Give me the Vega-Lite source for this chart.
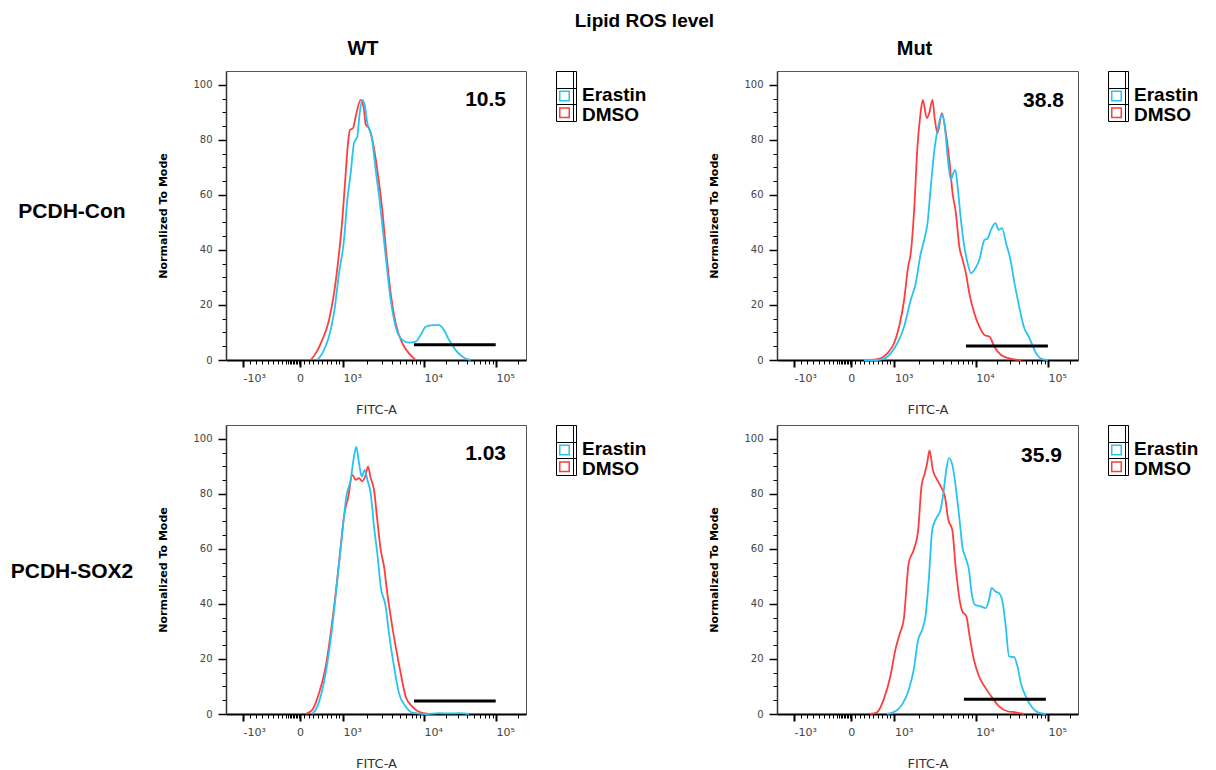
{
  "$schema": "https://vega.github.io/schema/vega-lite/v6.json",
  "padding": {"left": 10, "top": 11, "right": 5, "bottom": 0},
  "background": "white",
  "title": {"text": "Lipid ROS level", "font": "Liberation Sans", "fontSize": 19, "fontWeight": "bold", "anchor": "middle", "dx": 40, "offset": 8, "color": "black"},
  "config": {"font": "Liberation Sans", "axis": {"grid": false}},
  "datasets": {
    "legend": [{"s": "Erastin", "r": 1.5, "ty": 1.42}, {"s": "DMSO", "r": 2.5, "ty": 2.62}],
    "gates": [
      {"p": "WT_Con", "ch": 188, "ch2": 269.7, "v": 5.5},
      {"p": "Mut_Con", "ch": 188.3, "ch2": 270, "v": 5.1},
      {"p": "WT_SOX2", "ch": 188, "ch2": 269.7, "v": 4.7},
      {"p": "Mut_SOX2", "ch": 186.3, "ch2": 268, "v": 5.4}
    ],
    "pct": [
      {"p": "WT_Con", "ch": 280, "v": 94.5, "t": "10.5"},
      {"p": "Mut_Con", "ch": 286, "v": 94, "t": "38.8"},
      {"p": "WT_SOX2", "ch": 280, "v": 94.4, "t": "1.03"},
      {"p": "Mut_SOX2", "ch": 284, "v": 93.8, "t": "35.9"}
    ],
    "curves": [
      {"p":"WT_Con","s":"DMSO","ch":84.7,"v":0},{"p":"WT_Con","s":"DMSO","ch":89.7,"v":2.4},{"p":"WT_Con","s":"DMSO","ch":96.3,"v":7.3},{"p":"WT_Con","s":"DMSO","ch":103,"v":14.5},{"p":"WT_Con","s":"DMSO","ch":108,"v":24.2},{"p":"WT_Con","s":"DMSO","ch":112.3,"v":36.4},{"p":"WT_Con","s":"DMSO","ch":116.3,"v":50.9},{"p":"WT_Con","s":"DMSO","ch":119,"v":64.2},{"p":"WT_Con","s":"DMSO","ch":122,"v":78.8},{"p":"WT_Con","s":"DMSO","ch":124,"v":83.6},{"p":"WT_Con","s":"DMSO","ch":127,"v":84.2},{"p":"WT_Con","s":"DMSO","ch":129.7,"v":88.5},{"p":"WT_Con","s":"DMSO","ch":134.7,"v":94.5},{"p":"WT_Con","s":"DMSO","ch":138,"v":90.9},{"p":"WT_Con","s":"DMSO","ch":139.7,"v":85.5},{"p":"WT_Con","s":"DMSO","ch":143,"v":84.2},{"p":"WT_Con","s":"DMSO","ch":146.3,"v":80},{"p":"WT_Con","s":"DMSO","ch":151.3,"v":69.1},{"p":"WT_Con","s":"DMSO","ch":156.3,"v":54.5},{"p":"WT_Con","s":"DMSO","ch":160.3,"v":38.8},{"p":"WT_Con","s":"DMSO","ch":164.7,"v":24.2},{"p":"WT_Con","s":"DMSO","ch":169.7,"v":13.3},{"p":"WT_Con","s":"DMSO","ch":176.3,"v":6.1},{"p":"WT_Con","s":"DMSO","ch":183,"v":2.4},{"p":"WT_Con","s":"DMSO","ch":189.7,"v":0},
      {"p":"WT_Con","s":"Erastin","ch":91.3,"v":0},{"p":"WT_Con","s":"Erastin","ch":96.3,"v":2.4},{"p":"WT_Con","s":"Erastin","ch":103,"v":8.5},{"p":"WT_Con","s":"Erastin","ch":108,"v":17},{"p":"WT_Con","s":"Erastin","ch":113,"v":31.5},{"p":"WT_Con","s":"Erastin","ch":118,"v":43.6},{"p":"WT_Con","s":"Erastin","ch":121.3,"v":58.2},{"p":"WT_Con","s":"Erastin","ch":124.7,"v":67.9},{"p":"WT_Con","s":"Erastin","ch":128,"v":78.8},{"p":"WT_Con","s":"Erastin","ch":131.3,"v":81.2},{"p":"WT_Con","s":"Erastin","ch":133.7,"v":89.7},{"p":"WT_Con","s":"Erastin","ch":136.3,"v":94.5},{"p":"WT_Con","s":"Erastin","ch":139,"v":92.1},{"p":"WT_Con","s":"Erastin","ch":141.3,"v":86.1},{"p":"WT_Con","s":"Erastin","ch":145.7,"v":81.2},{"p":"WT_Con","s":"Erastin","ch":149.7,"v":69.1},{"p":"WT_Con","s":"Erastin","ch":154.7,"v":54.5},{"p":"WT_Con","s":"Erastin","ch":159.7,"v":37.6},{"p":"WT_Con","s":"Erastin","ch":164.7,"v":21.8},{"p":"WT_Con","s":"Erastin","ch":169.7,"v":12.1},{"p":"WT_Con","s":"Erastin","ch":176.3,"v":7.3},{"p":"WT_Con","s":"Erastin","ch":183,"v":6.3},{"p":"WT_Con","s":"Erastin","ch":189.7,"v":6.7},{"p":"WT_Con","s":"Erastin","ch":194.7,"v":9.1},{"p":"WT_Con","s":"Erastin","ch":199.7,"v":12.1},{"p":"WT_Con","s":"Erastin","ch":206.3,"v":12.7},{"p":"WT_Con","s":"Erastin","ch":213,"v":12.7},{"p":"WT_Con","s":"Erastin","ch":218,"v":10.9},{"p":"WT_Con","s":"Erastin","ch":223,"v":7.3},{"p":"WT_Con","s":"Erastin","ch":229.7,"v":3.6},{"p":"WT_Con","s":"Erastin","ch":238,"v":0.8},{"p":"WT_Con","s":"Erastin","ch":244.7,"v":0},
      {"p":"Mut_Con","s":"DMSO","ch":93.3,"v":0},{"p":"Mut_Con","s":"DMSO","ch":103.3,"v":0.6},{"p":"Mut_Con","s":"DMSO","ch":110,"v":2.4},{"p":"Mut_Con","s":"DMSO","ch":116.7,"v":6.1},{"p":"Mut_Con","s":"DMSO","ch":121.7,"v":12.1},{"p":"Mut_Con","s":"DMSO","ch":126.7,"v":21.8},{"p":"Mut_Con","s":"DMSO","ch":130.7,"v":33.9},{"p":"Mut_Con","s":"DMSO","ch":133.3,"v":38.8},{"p":"Mut_Con","s":"DMSO","ch":136.7,"v":54.5},{"p":"Mut_Con","s":"DMSO","ch":140,"v":77.6},{"p":"Mut_Con","s":"DMSO","ch":142.7,"v":88.5},{"p":"Mut_Con","s":"DMSO","ch":145.3,"v":94.5},{"p":"Mut_Con","s":"DMSO","ch":149.3,"v":87.9},{"p":"Mut_Con","s":"DMSO","ch":151.7,"v":89.7},{"p":"Mut_Con","s":"DMSO","ch":155,"v":94.5},{"p":"Mut_Con","s":"DMSO","ch":157.3,"v":87.3},{"p":"Mut_Con","s":"DMSO","ch":160,"v":82.4},{"p":"Mut_Con","s":"DMSO","ch":164.3,"v":89.7},{"p":"Mut_Con","s":"DMSO","ch":168.3,"v":82.4},{"p":"Mut_Con","s":"DMSO","ch":171.7,"v":72.7},{"p":"Mut_Con","s":"DMSO","ch":175,"v":60.6},{"p":"Mut_Con","s":"DMSO","ch":178.3,"v":53.3},{"p":"Mut_Con","s":"DMSO","ch":181.7,"v":41.2},{"p":"Mut_Con","s":"DMSO","ch":185,"v":36.4},{"p":"Mut_Con","s":"DMSO","ch":188.3,"v":31.5},{"p":"Mut_Con","s":"DMSO","ch":191.7,"v":24.2},{"p":"Mut_Con","s":"DMSO","ch":196.7,"v":17},{"p":"Mut_Con","s":"DMSO","ch":201.7,"v":12.1},{"p":"Mut_Con","s":"DMSO","ch":206.7,"v":9.1},{"p":"Mut_Con","s":"DMSO","ch":211.7,"v":8.5},{"p":"Mut_Con","s":"DMSO","ch":216.7,"v":4.8},{"p":"Mut_Con","s":"DMSO","ch":223.3,"v":1.8},{"p":"Mut_Con","s":"DMSO","ch":233.3,"v":0.4},{"p":"Mut_Con","s":"DMSO","ch":243.3,"v":0},
      {"p":"Mut_Con","s":"Erastin","ch":86.7,"v":0},{"p":"Mut_Con","s":"Erastin","ch":100,"v":0},{"p":"Mut_Con","s":"Erastin","ch":106.7,"v":0.4},{"p":"Mut_Con","s":"Erastin","ch":113.3,"v":2.4},{"p":"Mut_Con","s":"Erastin","ch":120,"v":6.1},{"p":"Mut_Con","s":"Erastin","ch":126.7,"v":12.1},{"p":"Mut_Con","s":"Erastin","ch":133.3,"v":21.8},{"p":"Mut_Con","s":"Erastin","ch":138.3,"v":27.9},{"p":"Mut_Con","s":"Erastin","ch":143.3,"v":38.8},{"p":"Mut_Con","s":"Erastin","ch":146.7,"v":43.6},{"p":"Mut_Con","s":"Erastin","ch":150,"v":49.7},{"p":"Mut_Con","s":"Erastin","ch":153.3,"v":63},{"p":"Mut_Con","s":"Erastin","ch":157.3,"v":77.6},{"p":"Mut_Con","s":"Erastin","ch":160.7,"v":84.8},{"p":"Mut_Con","s":"Erastin","ch":164.3,"v":89.1},{"p":"Mut_Con","s":"Erastin","ch":167.3,"v":84.8},{"p":"Mut_Con","s":"Erastin","ch":170,"v":73.9},{"p":"Mut_Con","s":"Erastin","ch":173.3,"v":65.5},{"p":"Mut_Con","s":"Erastin","ch":175.7,"v":67.9},{"p":"Mut_Con","s":"Erastin","ch":177.7,"v":69.1},{"p":"Mut_Con","s":"Erastin","ch":180,"v":63},{"p":"Mut_Con","s":"Erastin","ch":183.3,"v":50.9},{"p":"Mut_Con","s":"Erastin","ch":186.7,"v":41.2},{"p":"Mut_Con","s":"Erastin","ch":190,"v":35.2},{"p":"Mut_Con","s":"Erastin","ch":193.3,"v":31.5},{"p":"Mut_Con","s":"Erastin","ch":196.7,"v":32.7},{"p":"Mut_Con","s":"Erastin","ch":201.7,"v":36.4},{"p":"Mut_Con","s":"Erastin","ch":206.7,"v":43.6},{"p":"Mut_Con","s":"Erastin","ch":210,"v":44.2},{"p":"Mut_Con","s":"Erastin","ch":213.3,"v":47.3},{"p":"Mut_Con","s":"Erastin","ch":217.7,"v":49.7},{"p":"Mut_Con","s":"Erastin","ch":221,"v":47.3},{"p":"Mut_Con","s":"Erastin","ch":224.3,"v":47.9},{"p":"Mut_Con","s":"Erastin","ch":228.3,"v":42.4},{"p":"Mut_Con","s":"Erastin","ch":232.7,"v":36.4},{"p":"Mut_Con","s":"Erastin","ch":236.7,"v":27.9},{"p":"Mut_Con","s":"Erastin","ch":240.7,"v":20.6},{"p":"Mut_Con","s":"Erastin","ch":246,"v":12.1},{"p":"Mut_Con","s":"Erastin","ch":251.7,"v":7.9},{"p":"Mut_Con","s":"Erastin","ch":258.3,"v":2.4},{"p":"Mut_Con","s":"Erastin","ch":265,"v":0.2},{"p":"Mut_Con","s":"Erastin","ch":270,"v":0},
      {"p":"WT_SOX2","s":"DMSO","ch":79.7,"v":0},{"p":"WT_SOX2","s":"DMSO","ch":86.3,"v":1.5},{"p":"WT_SOX2","s":"DMSO","ch":93,"v":7.5},{"p":"WT_SOX2","s":"DMSO","ch":99.7,"v":17.2},{"p":"WT_SOX2","s":"DMSO","ch":104.7,"v":29.3},{"p":"WT_SOX2","s":"DMSO","ch":109.7,"v":43.9},{"p":"WT_SOX2","s":"DMSO","ch":114.7,"v":60.8},{"p":"WT_SOX2","s":"DMSO","ch":118,"v":71.8},{"p":"WT_SOX2","s":"DMSO","ch":122.3,"v":79},{"p":"WT_SOX2","s":"DMSO","ch":126.3,"v":86.9},{"p":"WT_SOX2","s":"DMSO","ch":129.7,"v":85.1},{"p":"WT_SOX2","s":"DMSO","ch":133,"v":85.7},{"p":"WT_SOX2","s":"DMSO","ch":136.3,"v":84.5},{"p":"WT_SOX2","s":"DMSO","ch":139.7,"v":86.9},{"p":"WT_SOX2","s":"DMSO","ch":142,"v":89.9},{"p":"WT_SOX2","s":"DMSO","ch":144.7,"v":85.7},{"p":"WT_SOX2","s":"DMSO","ch":148,"v":81.5},{"p":"WT_SOX2","s":"DMSO","ch":151.3,"v":70.5},{"p":"WT_SOX2","s":"DMSO","ch":154.7,"v":59.6},{"p":"WT_SOX2","s":"DMSO","ch":158,"v":53.6},{"p":"WT_SOX2","s":"DMSO","ch":161.3,"v":43.9},{"p":"WT_SOX2","s":"DMSO","ch":164.7,"v":35.4},{"p":"WT_SOX2","s":"DMSO","ch":169.7,"v":24.5},{"p":"WT_SOX2","s":"DMSO","ch":174.7,"v":14.8},{"p":"WT_SOX2","s":"DMSO","ch":179.7,"v":6.3},{"p":"WT_SOX2","s":"DMSO","ch":186.3,"v":2.7},{"p":"WT_SOX2","s":"DMSO","ch":193,"v":0.8},{"p":"WT_SOX2","s":"DMSO","ch":203,"v":0},
      {"p":"WT_SOX2","s":"Erastin","ch":86.3,"v":0},{"p":"WT_SOX2","s":"Erastin","ch":91.3,"v":2.7},{"p":"WT_SOX2","s":"Erastin","ch":96.3,"v":8.7},{"p":"WT_SOX2","s":"Erastin","ch":101.3,"v":18.4},{"p":"WT_SOX2","s":"Erastin","ch":106.3,"v":31.8},{"p":"WT_SOX2","s":"Erastin","ch":111.3,"v":48.7},{"p":"WT_SOX2","s":"Erastin","ch":116.3,"v":65.7},{"p":"WT_SOX2","s":"Erastin","ch":120.3,"v":79},{"p":"WT_SOX2","s":"Erastin","ch":124.7,"v":85.1},{"p":"WT_SOX2","s":"Erastin","ch":128,"v":93.6},{"p":"WT_SOX2","s":"Erastin","ch":130.3,"v":97},{"p":"WT_SOX2","s":"Erastin","ch":133,"v":91.2},{"p":"WT_SOX2","s":"Erastin","ch":135.7,"v":86.3},{"p":"WT_SOX2","s":"Erastin","ch":138.7,"v":88.7},{"p":"WT_SOX2","s":"Erastin","ch":141.3,"v":85.1},{"p":"WT_SOX2","s":"Erastin","ch":144.7,"v":80.2},{"p":"WT_SOX2","s":"Erastin","ch":148,"v":68.1},{"p":"WT_SOX2","s":"Erastin","ch":151.3,"v":58.4},{"p":"WT_SOX2","s":"Erastin","ch":154.7,"v":46.3},{"p":"WT_SOX2","s":"Erastin","ch":159.7,"v":39},{"p":"WT_SOX2","s":"Erastin","ch":163,"v":29.3},{"p":"WT_SOX2","s":"Erastin","ch":168,"v":17.2},{"p":"WT_SOX2","s":"Erastin","ch":173,"v":7.5},{"p":"WT_SOX2","s":"Erastin","ch":179.7,"v":2.7},{"p":"WT_SOX2","s":"Erastin","ch":186.3,"v":0.5},{"p":"WT_SOX2","s":"Erastin","ch":199.7,"v":0},{"p":"WT_SOX2","s":"Erastin","ch":213,"v":0.3},{"p":"WT_SOX2","s":"Erastin","ch":223,"v":0.2},{"p":"WT_SOX2","s":"Erastin","ch":233,"v":0.3},{"p":"WT_SOX2","s":"Erastin","ch":243,"v":0},
      {"p":"Mut_SOX2","s":"DMSO","ch":93,"v":0},{"p":"Mut_SOX2","s":"DMSO","ch":99.7,"v":0.6},{"p":"Mut_SOX2","s":"DMSO","ch":106.3,"v":5.2},{"p":"Mut_SOX2","s":"DMSO","ch":113,"v":13.7},{"p":"Mut_SOX2","s":"DMSO","ch":118,"v":23.4},{"p":"Mut_SOX2","s":"DMSO","ch":122,"v":28.8},{"p":"Mut_SOX2","s":"DMSO","ch":126.3,"v":34.3},{"p":"Mut_SOX2","s":"DMSO","ch":131.3,"v":54.8},{"p":"Mut_SOX2","s":"DMSO","ch":136.3,"v":59.7},{"p":"Mut_SOX2","s":"DMSO","ch":140.7,"v":66.9},{"p":"Mut_SOX2","s":"DMSO","ch":144,"v":82.7},{"p":"Mut_SOX2","s":"DMSO","ch":147.3,"v":87.5},{"p":"Mut_SOX2","s":"DMSO","ch":149.7,"v":91.2},{"p":"Mut_SOX2","s":"DMSO","ch":152,"v":95.8},{"p":"Mut_SOX2","s":"DMSO","ch":155.3,"v":88.7},{"p":"Mut_SOX2","s":"DMSO","ch":159.7,"v":85.1},{"p":"Mut_SOX2","s":"DMSO","ch":164,"v":82.1},{"p":"Mut_SOX2","s":"DMSO","ch":167.3,"v":79.1},{"p":"Mut_SOX2","s":"DMSO","ch":170.7,"v":70.6},{"p":"Mut_SOX2","s":"DMSO","ch":174.7,"v":66.9},{"p":"Mut_SOX2","s":"DMSO","ch":178,"v":53.6},{"p":"Mut_SOX2","s":"DMSO","ch":182,"v":41.5},{"p":"Mut_SOX2","s":"DMSO","ch":184.7,"v":37.3},{"p":"Mut_SOX2","s":"DMSO","ch":188.7,"v":35.5},{"p":"Mut_SOX2","s":"DMSO","ch":192,"v":28.2},{"p":"Mut_SOX2","s":"DMSO","ch":196.3,"v":19.7},{"p":"Mut_SOX2","s":"DMSO","ch":201.3,"v":13.7},{"p":"Mut_SOX2","s":"DMSO","ch":208,"v":9.4},{"p":"Mut_SOX2","s":"DMSO","ch":214.7,"v":5.8},{"p":"Mut_SOX2","s":"DMSO","ch":221.3,"v":2.8},{"p":"Mut_SOX2","s":"DMSO","ch":229.7,"v":1},{"p":"Mut_SOX2","s":"DMSO","ch":238,"v":0.6},{"p":"Mut_SOX2","s":"DMSO","ch":246.3,"v":0},
      {"p":"Mut_SOX2","s":"Erastin","ch":109.7,"v":0},{"p":"Mut_SOX2","s":"Erastin","ch":118,"v":1},{"p":"Mut_SOX2","s":"Erastin","ch":124.7,"v":3.4},{"p":"Mut_SOX2","s":"Erastin","ch":131.3,"v":8.8},{"p":"Mut_SOX2","s":"Erastin","ch":136.3,"v":16.1},{"p":"Mut_SOX2","s":"Erastin","ch":140.7,"v":27},{"p":"Mut_SOX2","s":"Erastin","ch":144.7,"v":30.6},{"p":"Mut_SOX2","s":"Erastin","ch":148,"v":35.5},{"p":"Mut_SOX2","s":"Erastin","ch":151.3,"v":48.8},{"p":"Mut_SOX2","s":"Erastin","ch":154.7,"v":66.9},{"p":"Mut_SOX2","s":"Erastin","ch":158,"v":70.6},{"p":"Mut_SOX2","s":"Erastin","ch":163,"v":74.2},{"p":"Mut_SOX2","s":"Erastin","ch":166.3,"v":81.5},{"p":"Mut_SOX2","s":"Erastin","ch":168.7,"v":88.7},{"p":"Mut_SOX2","s":"Erastin","ch":171.3,"v":93},{"p":"Mut_SOX2","s":"Erastin","ch":174.7,"v":90.6},{"p":"Mut_SOX2","s":"Erastin","ch":179.7,"v":77.8},{"p":"Mut_SOX2","s":"Erastin","ch":183,"v":66.9},{"p":"Mut_SOX2","s":"Erastin","ch":184.7,"v":60.9},{"p":"Mut_SOX2","s":"Erastin","ch":188,"v":56.7},{"p":"Mut_SOX2","s":"Erastin","ch":191.3,"v":52.4},{"p":"Mut_SOX2","s":"Erastin","ch":194,"v":43.9},{"p":"Mut_SOX2","s":"Erastin","ch":197.3,"v":39.7},{"p":"Mut_SOX2","s":"Erastin","ch":203,"v":39.1},{"p":"Mut_SOX2","s":"Erastin","ch":208,"v":38.5},{"p":"Mut_SOX2","s":"Erastin","ch":211.3,"v":41.5},{"p":"Mut_SOX2","s":"Erastin","ch":214,"v":45.8},{"p":"Mut_SOX2","s":"Erastin","ch":217.3,"v":44.6},{"p":"Mut_SOX2","s":"Erastin","ch":221.3,"v":43.9},{"p":"Mut_SOX2","s":"Erastin","ch":224.7,"v":40.9},{"p":"Mut_SOX2","s":"Erastin","ch":228,"v":31.8},{"p":"Mut_SOX2","s":"Erastin","ch":231.3,"v":20.9},{"p":"Mut_SOX2","s":"Erastin","ch":236.3,"v":20.7},{"p":"Mut_SOX2","s":"Erastin","ch":239.7,"v":17.3},{"p":"Mut_SOX2","s":"Erastin","ch":243,"v":11.3},{"p":"Mut_SOX2","s":"Erastin","ch":248,"v":6.4},{"p":"Mut_SOX2","s":"Erastin","ch":254.7,"v":2.2},{"p":"Mut_SOX2","s":"Erastin","ch":261.3,"v":0.4},{"p":"Mut_SOX2","s":"Erastin","ch":268,"v":0}
    ]
  },
  "spacing": 7,
  "vconcat": [
    {
      "spacing": 23,
      "hconcat": [
        {
          "width": 124, "height": 289, "view": {"stroke": null},
          "title": {"text": " ", "fontSize": 20, "fontWeight": "bold", "offset": 12},
          "data": {"values": [{"t": "PCDH-Con"}]},
          "mark": {"type": "text", "font": "Liberation Sans", "fontWeight": "bold", "fontSize": 21, "align": "center", "baseline": "middle", "color": "black"},
          "encoding": {
            "x": {"datum": 0.5, "type": "quantitative", "scale": {"domain": [0, 1]}, "axis": null},
            "y": {"datum": 0.512, "type": "quantitative", "scale": {"domain": [0, 1]}, "axis": null},
            "text": {"field": "t", "type": "nominal"}
          }
        },
        {
          "spacing": 61,
          "hconcat": [
            {
              "spacing": 28,
              "hconcat": [
                {
                  "width": 300, "height": 289, "view": {"stroke": "#555", "strokeWidth": 1},
                  "title": {"text": "WT", "font": "Liberation Sans", "fontSize": 20, "fontWeight": "bold", "frame": "group", "anchor": "middle", "dx": -13, "offset": 12, "color": "black"},
                  "encoding": {
                    "x": {"field": "ch", "type": "quantitative", "scale": {"domain": [0, 300], "nice": false, "zero": false},
                      "axis": {"values": [17,24,30,36,42,47,52,56,60,62,63.5,65,66.5,68,69.5,71,72.5,74,78,83,87,92,96,101,105,110,113,117,141.4,155.6,165.8,173.6,180,185.5,190.2,194.3,198,219.7,232.4,241.3,248.3,254,258.8,263,266.7,270,291.7],
                        "labelExpr": "datum.value == 17 ? '-10³' : datum.value == 74 ? '0' : datum.value == 117 ? '10³' : datum.value == 198 ? '10⁴' : datum.value == 270 ? '10⁵' : ''",
                        "labelOverlap": false, "labelFlush": false, "labelBound": false,
                        "labelFont": "DejaVu Sans", "labelFontSize": 11, "labelColor": "#444", "labelPadding": 5,
                        "labelAlign": {"condition": {"test": "datum.value == 74", "value": "center"}, "value": "left"},
                        "tickColor": "black",
                        "tickSize": {"condition": {"test": "indexof([17,74,117,198,270], datum.value) >= 0", "value": 7}, "value": 4},
                        "tickWidth": {"condition": {"test": "indexof([17,74,117,198,270], datum.value) >= 0", "value": 2}, "value": 1},
                        "domainColor": "black", "domainWidth": 2, "grid": false,
                        "title": "FITC-A", "titleFont": "DejaVu Sans", "titleFontSize": 13, "titleFontWeight": "normal", "titleColor": "#333", "titlePadding": 20}},
                    "y": {"field": "v", "type": "quantitative", "scale": {"domain": [0, 105], "nice": false, "zero": false},
                      "axis": {"values": [0,5,10,15,20,25,30,35,40,45,50,55,60,65,70,75,80,85,90,95,100],
                        "labelExpr": "datum.value % 20 == 0 ? datum.label : ''",
                        "labelOverlap": false, "labelFlush": false,
                        "labelFont": "DejaVu Sans", "labelFontSize": 10, "labelColor": "#444", "labelPadding": 6,
                        "tickColor": "black",
                        "tickSize": {"condition": {"test": "datum.value % 20 == 0", "value": 8}, "value": 4},
                        "tickWidth": {"condition": {"test": "datum.value % 20 == 0", "value": 1.5}, "value": 1},
                        "domainColor": "#333", "domainWidth": 1.5, "grid": false,
                        "title": "Normalized To Mode", "titleFont": "DejaVu Sans", "titleFontSize": 11, "titleFontWeight": "bold", "titleColor": "black", "titlePadding": 24}}
                  },
                  "layer": [
                    {"data": {"name": "curves"}, "transform": [{"filter": "datum.p == 'WT_Con'"}], "mark": {"type": "line", "interpolate": "monotone", "strokeWidth": 1.8}, "encoding": {"color": {"field": "s", "type": "nominal", "scale": {"domain": ["Erastin", "DMSO"], "range": ["#27c3f3", "#ff3d3d"]}, "legend": null}}},
                    {"data": {"name": "gates"}, "transform": [{"filter": "datum.p == 'WT_Con'"}], "mark": {"type": "rule", "color": "black", "strokeWidth": 3}, "encoding": {"x2": {"field": "ch2"}}},
                    {"data": {"name": "pct"}, "transform": [{"filter": "datum.p == 'WT_Con'"}], "mark": {"type": "text", "align": "right", "baseline": "middle", "font": "Liberation Sans", "fontWeight": "bold", "fontSize": 21, "color": "black"}, "encoding": {"text": {"field": "t", "type": "nominal"}}}
                  ]
                },
                {
                  "width": 20, "height": 50, "view": {"stroke": "black", "strokeWidth": 1},
                  "title": {"text": " ", "fontSize": 20, "fontWeight": "bold", "offset": 12},
                  "data": {"name": "legend"},
                  "encoding": {"y": {"field": "r", "type": "quantitative", "scale": {"domain": [0, 3], "reverse": true, "nice": false, "zero": false}, "axis": {"values": [1, 2], "grid": true, "gridColor": "black", "gridOpacity": 1, "gridWidth": 1, "labels": false, "ticks": false, "domain": false, "title": null}}},
                  "layer": [
                    {"mark": {"type": "point", "shape": "square", "filled": false, "size": 90, "strokeWidth": 1.5, "opacity": 1}, "encoding": {"x": {"datum": 8.5, "type": "quantitative", "scale": {"domain": [0, 20], "nice": false, "zero": false}, "axis": {"values": [17], "grid": true, "gridColor": "black", "gridOpacity": 1, "labels": false, "ticks": false, "domain": false, "title": null}}, "color": {"field": "s", "type": "nominal", "scale": {"domain": ["Erastin", "DMSO"], "range": ["#27c3f3", "#ff3d3d"]}, "legend": null}}},
                    {"mark": {"type": "text", "align": "left", "baseline": "middle", "font": "Liberation Sans", "fontWeight": "bold", "fontSize": 19, "color": "black"}, "encoding": {"x": {"datum": 26, "type": "quantitative"}, "y": {"field": "ty", "type": "quantitative"}, "text": {"field": "s", "type": "nominal"}}}
                  ]
                }
              ]
            },
            {
              "spacing": 28,
              "hconcat": [
                {
                  "width": 301, "height": 289, "view": {"stroke": "#555", "strokeWidth": 1},
                  "title": {"text": "Mut", "font": "Liberation Sans", "fontSize": 20, "fontWeight": "bold", "frame": "group", "anchor": "middle", "dx": -13, "offset": 12, "color": "black"},
                  "encoding": {
                    "x": {"field": "ch", "type": "quantitative", "scale": {"domain": [0, 300], "nice": false, "zero": false},
                      "axis": {"values": [17,24,30,36,42,47,52,56,60,62,63.5,65,66.5,68,69.5,71,72.5,74,78,83,87,92,96,101,105,110,113,117,141.4,155.6,165.8,173.6,180,185.5,190.2,194.3,198,219.7,232.4,241.3,248.3,254,258.8,263,266.7,270,291.7],
                        "labelExpr": "datum.value == 17 ? '-10³' : datum.value == 74 ? '0' : datum.value == 117 ? '10³' : datum.value == 198 ? '10⁴' : datum.value == 270 ? '10⁵' : ''",
                        "labelOverlap": false, "labelFlush": false, "labelBound": false,
                        "labelFont": "DejaVu Sans", "labelFontSize": 11, "labelColor": "#444", "labelPadding": 5,
                        "labelAlign": {"condition": {"test": "datum.value == 74", "value": "center"}, "value": "left"},
                        "tickColor": "black",
                        "tickSize": {"condition": {"test": "indexof([17,74,117,198,270], datum.value) >= 0", "value": 7}, "value": 4},
                        "tickWidth": {"condition": {"test": "indexof([17,74,117,198,270], datum.value) >= 0", "value": 2}, "value": 1},
                        "domainColor": "black", "domainWidth": 2, "grid": false,
                        "title": "FITC-A", "titleFont": "DejaVu Sans", "titleFontSize": 13, "titleFontWeight": "normal", "titleColor": "#333", "titlePadding": 20}},
                    "y": {"field": "v", "type": "quantitative", "scale": {"domain": [0, 105], "nice": false, "zero": false},
                      "axis": {"values": [0,5,10,15,20,25,30,35,40,45,50,55,60,65,70,75,80,85,90,95,100],
                        "labelExpr": "datum.value % 20 == 0 ? datum.label : ''",
                        "labelOverlap": false, "labelFlush": false,
                        "labelFont": "DejaVu Sans", "labelFontSize": 10, "labelColor": "#444", "labelPadding": 6,
                        "tickColor": "black",
                        "tickSize": {"condition": {"test": "datum.value % 20 == 0", "value": 8}, "value": 4},
                        "tickWidth": {"condition": {"test": "datum.value % 20 == 0", "value": 1.5}, "value": 1},
                        "domainColor": "#333", "domainWidth": 1.5, "grid": false,
                        "title": "Normalized To Mode", "titleFont": "DejaVu Sans", "titleFontSize": 11, "titleFontWeight": "bold", "titleColor": "black", "titlePadding": 24}}
                  },
                  "layer": [
                    {"data": {"name": "curves"}, "transform": [{"filter": "datum.p == 'Mut_Con'"}], "mark": {"type": "line", "interpolate": "monotone", "strokeWidth": 1.8}, "encoding": {"color": {"field": "s", "type": "nominal", "scale": {"domain": ["Erastin", "DMSO"], "range": ["#27c3f3", "#ff3d3d"]}, "legend": null}}},
                    {"data": {"name": "gates"}, "transform": [{"filter": "datum.p == 'Mut_Con'"}], "mark": {"type": "rule", "color": "black", "strokeWidth": 3}, "encoding": {"x2": {"field": "ch2"}}},
                    {"data": {"name": "pct"}, "transform": [{"filter": "datum.p == 'Mut_Con'"}], "mark": {"type": "text", "align": "right", "baseline": "middle", "font": "Liberation Sans", "fontWeight": "bold", "fontSize": 21, "color": "black"}, "encoding": {"text": {"field": "t", "type": "nominal"}}}
                  ]
                },
                {
                  "width": 20, "height": 50, "view": {"stroke": "black", "strokeWidth": 1},
                  "title": {"text": " ", "fontSize": 20, "fontWeight": "bold", "offset": 12},
                  "data": {"name": "legend"},
                  "encoding": {"y": {"field": "r", "type": "quantitative", "scale": {"domain": [0, 3], "reverse": true, "nice": false, "zero": false}, "axis": {"values": [1, 2], "grid": true, "gridColor": "black", "gridOpacity": 1, "gridWidth": 1, "labels": false, "ticks": false, "domain": false, "title": null}}},
                  "layer": [
                    {"mark": {"type": "point", "shape": "square", "filled": false, "size": 90, "strokeWidth": 1.5, "opacity": 1}, "encoding": {"x": {"datum": 8.5, "type": "quantitative", "scale": {"domain": [0, 20], "nice": false, "zero": false}, "axis": {"values": [17], "grid": true, "gridColor": "black", "gridOpacity": 1, "labels": false, "ticks": false, "domain": false, "title": null}}, "color": {"field": "s", "type": "nominal", "scale": {"domain": ["Erastin", "DMSO"], "range": ["#27c3f3", "#ff3d3d"]}, "legend": null}}},
                    {"mark": {"type": "text", "align": "left", "baseline": "middle", "font": "Liberation Sans", "fontWeight": "bold", "fontSize": 19, "color": "black"}, "encoding": {"x": {"datum": 26, "type": "quantitative"}, "y": {"field": "ty", "type": "quantitative"}, "text": {"field": "s", "type": "nominal"}}}
                  ]
                }
              ]
            }
          ]
        }
      ]
    },
    {
      "spacing": 23,
      "hconcat": [
        {
          "width": 124, "height": 289, "view": {"stroke": null},
          "data": {"values": [{"t": "PCDH-SOX2"}]},
          "mark": {"type": "text", "font": "Liberation Sans", "fontWeight": "bold", "fontSize": 21, "align": "center", "baseline": "middle", "color": "black"},
          "encoding": {
            "x": {"datum": 0.5, "type": "quantitative", "scale": {"domain": [0, 1]}, "axis": null},
            "y": {"datum": 0.49, "type": "quantitative", "scale": {"domain": [0, 1]}, "axis": null},
            "text": {"field": "t", "type": "nominal"}
          }
        },
        {
          "spacing": 61,
          "hconcat": [
            {
              "spacing": 28,
              "hconcat": [
                {
                  "width": 300, "height": 289, "view": {"stroke": "#555", "strokeWidth": 1},
                  "encoding": {
                    "x": {"field": "ch", "type": "quantitative", "scale": {"domain": [0, 300], "nice": false, "zero": false},
                      "axis": {"values": [17,24,30,36,42,47,52,56,60,62,63.5,65,66.5,68,69.5,71,72.5,74,78,83,87,92,96,101,105,110,113,117,141.4,155.6,165.8,173.6,180,185.5,190.2,194.3,198,219.7,232.4,241.3,248.3,254,258.8,263,266.7,270,291.7],
                        "labelExpr": "datum.value == 17 ? '-10³' : datum.value == 74 ? '0' : datum.value == 117 ? '10³' : datum.value == 198 ? '10⁴' : datum.value == 270 ? '10⁵' : ''",
                        "labelOverlap": false, "labelFlush": false, "labelBound": false,
                        "labelFont": "DejaVu Sans", "labelFontSize": 11, "labelColor": "#444", "labelPadding": 5,
                        "labelAlign": {"condition": {"test": "datum.value == 74", "value": "center"}, "value": "left"},
                        "tickColor": "black",
                        "tickSize": {"condition": {"test": "indexof([17,74,117,198,270], datum.value) >= 0", "value": 7}, "value": 4},
                        "tickWidth": {"condition": {"test": "indexof([17,74,117,198,270], datum.value) >= 0", "value": 2}, "value": 1},
                        "domainColor": "black", "domainWidth": 2, "grid": false,
                        "title": "FITC-A", "titleFont": "DejaVu Sans", "titleFontSize": 13, "titleFontWeight": "normal", "titleColor": "#333", "titlePadding": 20}},
                    "y": {"field": "v", "type": "quantitative", "scale": {"domain": [0, 105], "nice": false, "zero": false},
                      "axis": {"values": [0,5,10,15,20,25,30,35,40,45,50,55,60,65,70,75,80,85,90,95,100],
                        "labelExpr": "datum.value % 20 == 0 ? datum.label : ''",
                        "labelOverlap": false, "labelFlush": false,
                        "labelFont": "DejaVu Sans", "labelFontSize": 10, "labelColor": "#444", "labelPadding": 6,
                        "tickColor": "black",
                        "tickSize": {"condition": {"test": "datum.value % 20 == 0", "value": 8}, "value": 4},
                        "tickWidth": {"condition": {"test": "datum.value % 20 == 0", "value": 1.5}, "value": 1},
                        "domainColor": "#333", "domainWidth": 1.5, "grid": false,
                        "title": "Normalized To Mode", "titleFont": "DejaVu Sans", "titleFontSize": 11, "titleFontWeight": "bold", "titleColor": "black", "titlePadding": 24}}
                  },
                  "layer": [
                    {"data": {"name": "curves"}, "transform": [{"filter": "datum.p == 'WT_SOX2'"}], "mark": {"type": "line", "interpolate": "monotone", "strokeWidth": 1.8}, "encoding": {"color": {"field": "s", "type": "nominal", "scale": {"domain": ["Erastin", "DMSO"], "range": ["#27c3f3", "#ff3d3d"]}, "legend": null}}},
                    {"data": {"name": "gates"}, "transform": [{"filter": "datum.p == 'WT_SOX2'"}], "mark": {"type": "rule", "color": "black", "strokeWidth": 3}, "encoding": {"x2": {"field": "ch2"}}},
                    {"data": {"name": "pct"}, "transform": [{"filter": "datum.p == 'WT_SOX2'"}], "mark": {"type": "text", "align": "right", "baseline": "middle", "font": "Liberation Sans", "fontWeight": "bold", "fontSize": 21, "color": "black"}, "encoding": {"text": {"field": "t", "type": "nominal"}}}
                  ]
                },
                {
                  "width": 20, "height": 50, "view": {"stroke": "black", "strokeWidth": 1},
                  "data": {"name": "legend"},
                  "encoding": {"y": {"field": "r", "type": "quantitative", "scale": {"domain": [0, 3], "reverse": true, "nice": false, "zero": false}, "axis": {"values": [1, 2], "grid": true, "gridColor": "black", "gridOpacity": 1, "gridWidth": 1, "labels": false, "ticks": false, "domain": false, "title": null}}},
                  "layer": [
                    {"mark": {"type": "point", "shape": "square", "filled": false, "size": 90, "strokeWidth": 1.5, "opacity": 1}, "encoding": {"x": {"datum": 8.5, "type": "quantitative", "scale": {"domain": [0, 20], "nice": false, "zero": false}, "axis": {"values": [17], "grid": true, "gridColor": "black", "gridOpacity": 1, "labels": false, "ticks": false, "domain": false, "title": null}}, "color": {"field": "s", "type": "nominal", "scale": {"domain": ["Erastin", "DMSO"], "range": ["#27c3f3", "#ff3d3d"]}, "legend": null}}},
                    {"mark": {"type": "text", "align": "left", "baseline": "middle", "font": "Liberation Sans", "fontWeight": "bold", "fontSize": 19, "color": "black"}, "encoding": {"x": {"datum": 26, "type": "quantitative"}, "y": {"field": "ty", "type": "quantitative"}, "text": {"field": "s", "type": "nominal"}}}
                  ]
                }
              ]
            },
            {
              "spacing": 28,
              "hconcat": [
                {
                  "width": 301, "height": 289, "view": {"stroke": "#555", "strokeWidth": 1},
                  "encoding": {
                    "x": {"field": "ch", "type": "quantitative", "scale": {"domain": [0, 300], "nice": false, "zero": false},
                      "axis": {"values": [17,24,30,36,42,47,52,56,60,62,63.5,65,66.5,68,69.5,71,72.5,74,78,83,87,92,96,101,105,110,113,117,141.4,155.6,165.8,173.6,180,185.5,190.2,194.3,198,219.7,232.4,241.3,248.3,254,258.8,263,266.7,270,291.7],
                        "labelExpr": "datum.value == 17 ? '-10³' : datum.value == 74 ? '0' : datum.value == 117 ? '10³' : datum.value == 198 ? '10⁴' : datum.value == 270 ? '10⁵' : ''",
                        "labelOverlap": false, "labelFlush": false, "labelBound": false,
                        "labelFont": "DejaVu Sans", "labelFontSize": 11, "labelColor": "#444", "labelPadding": 5,
                        "labelAlign": {"condition": {"test": "datum.value == 74", "value": "center"}, "value": "left"},
                        "tickColor": "black",
                        "tickSize": {"condition": {"test": "indexof([17,74,117,198,270], datum.value) >= 0", "value": 7}, "value": 4},
                        "tickWidth": {"condition": {"test": "indexof([17,74,117,198,270], datum.value) >= 0", "value": 2}, "value": 1},
                        "domainColor": "black", "domainWidth": 2, "grid": false,
                        "title": "FITC-A", "titleFont": "DejaVu Sans", "titleFontSize": 13, "titleFontWeight": "normal", "titleColor": "#333", "titlePadding": 20}},
                    "y": {"field": "v", "type": "quantitative", "scale": {"domain": [0, 105], "nice": false, "zero": false},
                      "axis": {"values": [0,5,10,15,20,25,30,35,40,45,50,55,60,65,70,75,80,85,90,95,100],
                        "labelExpr": "datum.value % 20 == 0 ? datum.label : ''",
                        "labelOverlap": false, "labelFlush": false,
                        "labelFont": "DejaVu Sans", "labelFontSize": 10, "labelColor": "#444", "labelPadding": 6,
                        "tickColor": "black",
                        "tickSize": {"condition": {"test": "datum.value % 20 == 0", "value": 8}, "value": 4},
                        "tickWidth": {"condition": {"test": "datum.value % 20 == 0", "value": 1.5}, "value": 1},
                        "domainColor": "#333", "domainWidth": 1.5, "grid": false,
                        "title": "Normalized To Mode", "titleFont": "DejaVu Sans", "titleFontSize": 11, "titleFontWeight": "bold", "titleColor": "black", "titlePadding": 24}}
                  },
                  "layer": [
                    {"data": {"name": "curves"}, "transform": [{"filter": "datum.p == 'Mut_SOX2'"}], "mark": {"type": "line", "interpolate": "monotone", "strokeWidth": 1.8}, "encoding": {"color": {"field": "s", "type": "nominal", "scale": {"domain": ["Erastin", "DMSO"], "range": ["#27c3f3", "#ff3d3d"]}, "legend": null}}},
                    {"data": {"name": "gates"}, "transform": [{"filter": "datum.p == 'Mut_SOX2'"}], "mark": {"type": "rule", "color": "black", "strokeWidth": 3}, "encoding": {"x2": {"field": "ch2"}}},
                    {"data": {"name": "pct"}, "transform": [{"filter": "datum.p == 'Mut_SOX2'"}], "mark": {"type": "text", "align": "right", "baseline": "middle", "font": "Liberation Sans", "fontWeight": "bold", "fontSize": 21, "color": "black"}, "encoding": {"text": {"field": "t", "type": "nominal"}}}
                  ]
                },
                {
                  "width": 20, "height": 50, "view": {"stroke": "black", "strokeWidth": 1},
                  "data": {"name": "legend"},
                  "encoding": {"y": {"field": "r", "type": "quantitative", "scale": {"domain": [0, 3], "reverse": true, "nice": false, "zero": false}, "axis": {"values": [1, 2], "grid": true, "gridColor": "black", "gridOpacity": 1, "gridWidth": 1, "labels": false, "ticks": false, "domain": false, "title": null}}},
                  "layer": [
                    {"mark": {"type": "point", "shape": "square", "filled": false, "size": 90, "strokeWidth": 1.5, "opacity": 1}, "encoding": {"x": {"datum": 8.5, "type": "quantitative", "scale": {"domain": [0, 20], "nice": false, "zero": false}, "axis": {"values": [17], "grid": true, "gridColor": "black", "gridOpacity": 1, "labels": false, "ticks": false, "domain": false, "title": null}}, "color": {"field": "s", "type": "nominal", "scale": {"domain": ["Erastin", "DMSO"], "range": ["#27c3f3", "#ff3d3d"]}, "legend": null}}},
                    {"mark": {"type": "text", "align": "left", "baseline": "middle", "font": "Liberation Sans", "fontWeight": "bold", "fontSize": 19, "color": "black"}, "encoding": {"x": {"datum": 26, "type": "quantitative"}, "y": {"field": "ty", "type": "quantitative"}, "text": {"field": "s", "type": "nominal"}}}
                  ]
                }
              ]
            }
          ]
        }
      ]
    }
  ]
}
